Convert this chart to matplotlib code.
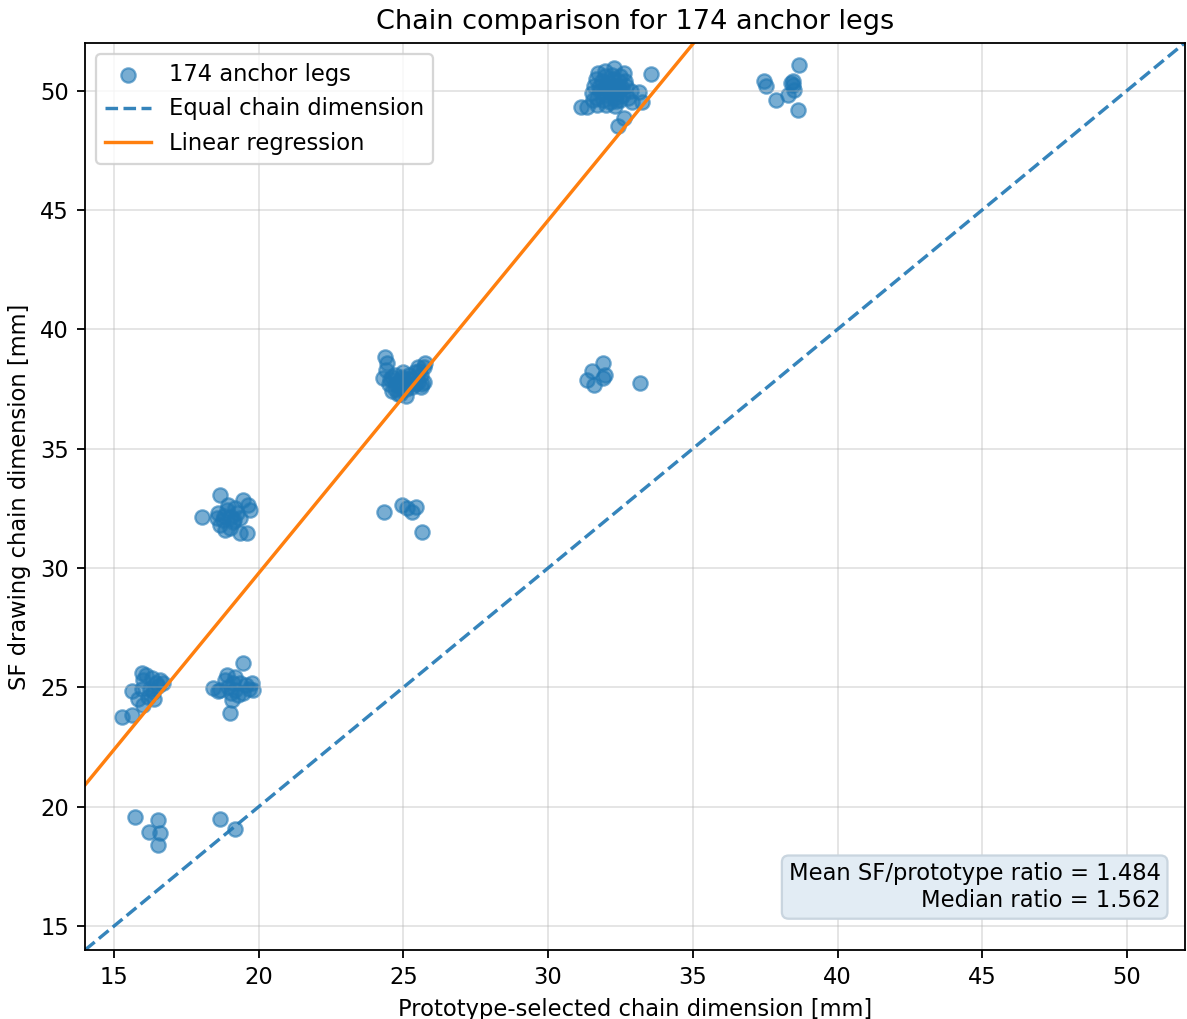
import numpy as np
import matplotlib.pyplot as plt

# clusters of (prototype-selected, SF drawing) chain dimensions [mm]
cluster_16_25 = [
    (15.28, 23.75), (15.62, 23.85), (15.62, 24.85), (15.97, 25.6), (16.0, 25.3),
    (15.97, 24.95), (16.25, 24.95), (16.31, 25.4), (16.59, 25.3), (16.52, 25.05),
    (15.83, 24.5), (16.18, 24.6), (16.0, 24.27), (16.4, 24.5), (16.1, 25.5),
    (16.45, 25.2), (16.7, 25.2), (16.35, 24.8),
]
cluster_19_25 = [
    (19.46, 26.03), (18.91, 25.52), (19.19, 25.44), (18.42, 24.98), (18.67, 24.89),
    (18.94, 25.02), (19.36, 25.19), (19.77, 25.19), (19.81, 24.89), (19.46, 24.77),
    (19.08, 24.48), (19.01, 23.93), (18.6, 24.85), (19.1, 25.2), (19.2, 24.9),
    (18.85, 25.3), (19.55, 25.1), (19.3, 24.7), (19.05, 24.75), (19.65, 24.95),
]
cluster_16_19 = [(15.73, 19.57), (16.52, 19.45), (16.21, 18.94), (16.59, 18.9), (16.52, 18.4)]
cluster_19_19 = [(18.67, 19.49), (19.19, 19.07)]
cluster_19_32 = [
    (18.04, 32.15), (18.67, 33.07), (19.46, 32.86), (19.63, 32.65), (19.7, 32.44),
    (18.6, 32.31), (18.91, 32.44), (19.25, 32.31), (18.67, 31.81), (19.01, 31.69),
    (19.36, 31.48), (19.6, 31.48), (18.77, 32.02), (19.12, 31.94), (18.94, 32.65),
    (19.36, 32.1), (18.8, 32.2), (19.05, 32.15), (18.55, 32.1), (19.2, 32.5),
    (18.85, 31.6), (19.15, 32.0),
]
cluster_25_32 = [(24.34, 32.36), (24.96, 32.65), (25.13, 32.52), (25.31, 32.36), (25.45, 32.56), (25.65, 31.5)]
cluster_25_38 = [
    (24.35, 38.85), (24.45, 38.6), (24.4, 38.3), (24.6, 38.0), (24.3, 37.95),
    (24.5, 37.7), (24.7, 37.5), (24.8, 37.3), (24.9, 37.6), (25.0, 37.9),
    (24.8, 37.8), (24.7, 38.1), (25.1, 37.5), (25.2, 37.7), (25.3, 37.9),
    (25.0, 38.2), (25.2, 38.1), (25.4, 38.2), (25.5, 37.8), (25.6, 37.6),
    (25.7, 37.8), (25.6, 38.1), (25.7, 38.4), (25.75, 38.6), (25.5, 38.4),
    (25.3, 37.6), (24.9, 37.3), (25.1, 37.2), (24.6, 37.4), (25.4, 37.7),
    (24.95, 38.0), (25.15, 37.9), (24.75, 37.7), (25.55, 38.25), (25.65, 37.7),
    (24.55, 37.9),
]
cluster_32_38 = [(31.88, 38.6), (31.53, 38.26), (31.98, 38.1), (31.36, 37.89), (31.57, 37.68), (31.91, 37.95), (33.19, 37.75)]
cluster_32_50 = [
    (31.12, 49.33), (31.33, 49.33), (31.74, 50.75), (31.98, 50.8), (32.26, 50.96),
    (32.61, 50.75), (33.57, 50.71), (33.13, 49.96), (33.26, 49.54), (32.61, 48.87),
    (32.4, 48.52),
    (31.5, 49.9), (31.6, 50.2), (31.7, 49.7), (31.8, 50.0), (31.85, 50.4),
    (31.9, 49.6), (32.0, 50.1), (32.05, 49.8), (32.1, 50.3), (32.15, 49.5),
    (32.2, 50.0), (32.25, 50.5), (32.3, 49.7), (32.35, 50.2), (32.4, 49.9),
    (32.45, 50.4), (32.5, 49.6), (32.55, 50.1), (32.6, 49.8), (32.7, 50.2),
    (32.75, 49.7), (32.85, 50.0), (31.65, 50.5), (31.95, 50.6), (32.2, 50.65),
    (32.5, 50.6), (31.7, 49.4), (32.0, 49.4), (32.3, 49.35), (32.9, 49.5),
    (31.55, 49.6), (32.1, 49.95), (32.45, 50.05), (31.75, 50.15), (32.65, 50.4),
    (32.0, 50.25), (32.35, 49.55),
]
cluster_38_50 = [
    (37.45, 50.38), (37.52, 50.17), (37.86, 49.62), (38.28, 49.83), (38.45, 50.38),
    (38.45, 50.25), (38.49, 50.04), (38.66, 51.09), (38.63, 49.2), (38.4, 50.3),
]

# regression line
reg_slope = 1.478
reg_intercept = 0.22
mean_ratio = 1.484
median_ratio = 1.562

ticks = [15, 20, 25, 30, 35, 40, 45, 50]
lims = (14, 52)

DPI = 163


if __name__ == "__main__":
    points = np.array(
        cluster_16_25 + cluster_19_25 + cluster_16_19 + cluster_19_19 + cluster_19_32
        + cluster_25_32 + cluster_25_38 + cluster_32_38 + cluster_32_50 + cluster_38_50
    )
    proto = points[:, 0]
    sf = points[:, 1]

    fig = plt.figure(figsize=(1187 / DPI, 1019 / DPI), dpi=DPI)
    ax = fig.add_axes([0.0716, 0.0677, 0.9266, 0.8903])

    ax.scatter(proto, sf, s=40, alpha=0.6, color="C0", label=f"{len(proto)} anchor legs")
    ax.plot(lims, lims, "--", color="C0", alpha=0.9, label="Equal chain dimension")
    line_x = np.array(lims)
    ax.plot(line_x, reg_slope * line_x + reg_intercept, color="C1", label="Linear regression")

    ax.set_xlim(lims)
    ax.set_ylim(lims)
    ax.set_xticks(ticks)
    ax.set_yticks(ticks)
    ax.grid(alpha=0.35)

    ax.set_title(f"Chain comparison for {len(proto)} anchor legs")
    ax.set_xlabel("Prototype-selected chain dimension [mm]")
    ax.set_ylabel("SF drawing chain dimension [mm]")
    ax.legend(loc="upper left")

    ax.text(
        0.978, 0.042,
        f"Mean SF/prototype ratio = {mean_ratio:.3f}\nMedian ratio = {median_ratio:.3f}",
        transform=ax.transAxes, ha="right", va="bottom", multialignment="right",
        bbox=dict(boxstyle="round", facecolor="#e2ecf4", edgecolor="#c9d5df"),
    )

    fig.savefig("out.png", dpi=DPI)
    plt.close(fig)
